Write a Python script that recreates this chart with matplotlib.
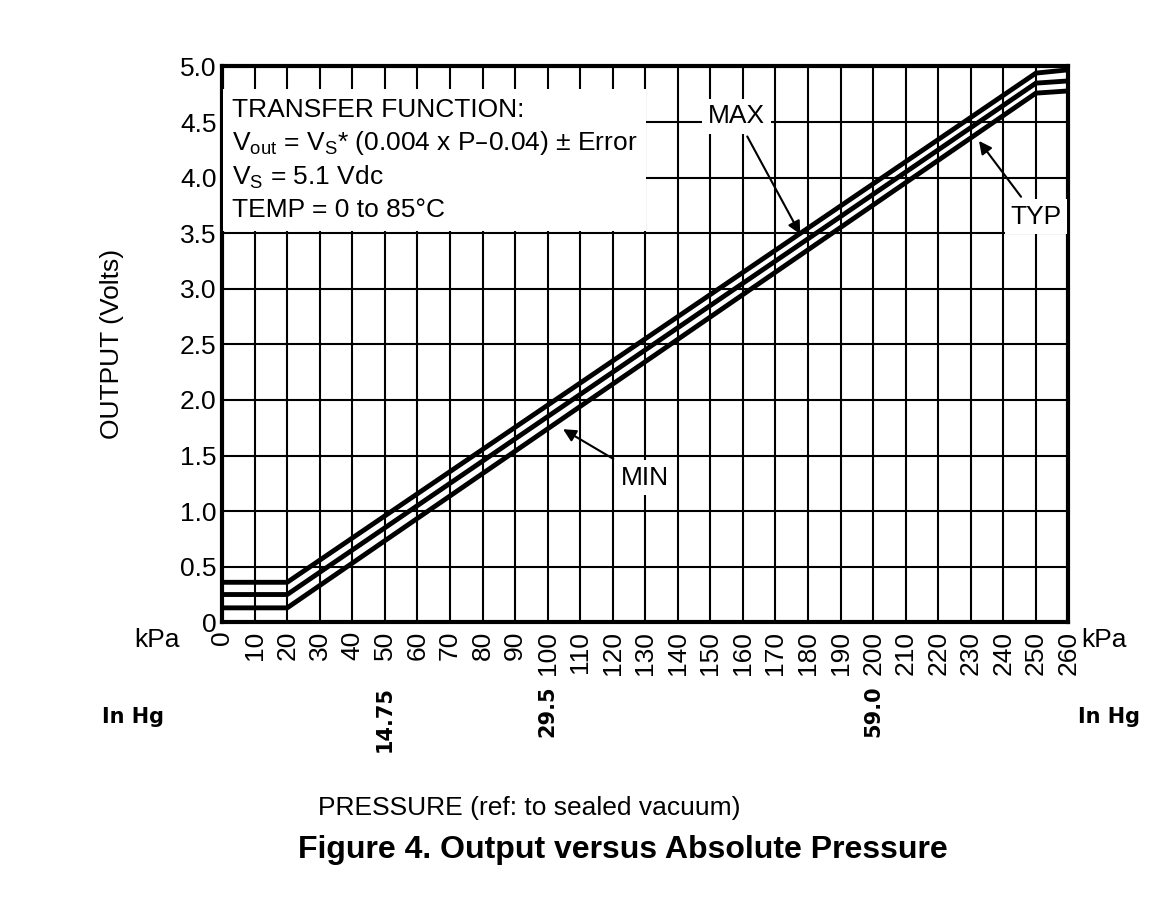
import matplotlib
matplotlib.use("Agg")
import matplotlib.pyplot as plt

plt.rcParams['font.family'] = ['Liberation Sans Narrow', 'Liberation Sans', 'DejaVu Sans']

kpa = [0, 20, 250, 260]
v_max = [0.36, 0.36, 4.94, 4.97]
v_typ = [0.25, 0.25, 4.85, 4.87]
v_min = [0.13, 0.13, 4.76, 4.78]
xticks = list(range(0, 261, 10))
yticks = [i * 0.5 for i in range(11)]
inhg_pos = [50, 100, 200]
inhg_lab = ["14.75", "29.5", "59.0"]

fig = plt.figure(figsize=(11.69, 8.98), dpi=100)
ax = fig.add_axes([0.19, 0.307, 0.724, 0.619])
for v in (v_max, v_typ, v_min):
    ax.plot(kpa, v, color='black', lw=3.5, solid_capstyle='butt', zorder=3)
ax.set_xlim(0, 260)
ax.set_ylim(0, 5.0)
ax.set_xticks(xticks)
ax.set_xticklabels([str(t) for t in xticks], rotation=90, fontsize=19)
ax.set_yticks(yticks)
ax.set_yticklabels(["0"] + [f"{t:.1f}" for t in yticks[1:]], fontsize=19)
ax.grid(True, color='black', lw=1.5)
ax.tick_params(axis='y', length=0, pad=4)
ax.tick_params(axis='x', length=0, pad=6)
for s in ax.spines.values():
    s.set_linewidth(3)
ax.set_ylabel("OUTPUT (Volts)", fontsize=19, labelpad=40)

ax.text(-13, -0.05, "kPa", fontsize=19, ha='right', va='top', clip_on=False)
ax.text(264, -0.05, "kPa", fontsize=19, ha='left', va='top', clip_on=False)
ax.text(-18, -0.85, "In Hg", fontsize=15, fontweight='bold', family='DejaVu Sans', ha='right', va='center', clip_on=False)
ax.text(263, -0.85, "In Hg", fontsize=15, fontweight='bold', family='DejaVu Sans', ha='left', va='center', clip_on=False)
for p, l in zip(inhg_pos, inhg_lab):
    ax.text(p, -0.57, l, rotation=90, fontsize=15, fontweight='bold', family='DejaVu Sans', ha='center', va='top', clip_on=False)

ax.text(3, 4.72, "TRANSFER FUNCTION:\n$\\mathregular{V_{out}}$ = $\\mathregular{V_S}$* (0.004 x P\u20130.04) \u00b1 Error\n$\\mathregular{V_S}$ = 5.1 Vdc\nTEMP = 0 to 85\u00b0C",
        fontsize=19, va='top', ha='left', linespacing=1.35,
        bbox=dict(facecolor='white', edgecolor='none', pad=6), zorder=4)

bb = dict(facecolor='white', edgecolor='none', pad=4)
ax.annotate("MAX", xy=(178, 3.47), xytext=(158, 4.55), fontsize=19, ha='center', va='center', bbox=bb,
            arrowprops=dict(arrowstyle='-|>', color='black', lw=1.5), zorder=5)
ax.annotate("TYP", xy=(232, 4.35), xytext=(250, 3.65), fontsize=19, ha='center', va='center', bbox=bb,
            arrowprops=dict(arrowstyle='-|>', color='black', lw=1.5), zorder=5)
ax.annotate("MIN", xy=(104, 1.75), xytext=(130, 1.3), fontsize=19, ha='center', va='center', bbox=bb,
            arrowprops=dict(arrowstyle='-|>', color='black', lw=1.5), zorder=5)

fig.text(0.453, 0.092, "PRESSURE (ref: to sealed vacuum)", fontsize=19, ha='center')
fig.text(0.533, 0.045, "Figure 4. Output versus Absolute Pressure", fontsize=23, fontweight='bold',
         family='Liberation Sans', ha='center')
fig.savefig("out.png", dpi=100)
